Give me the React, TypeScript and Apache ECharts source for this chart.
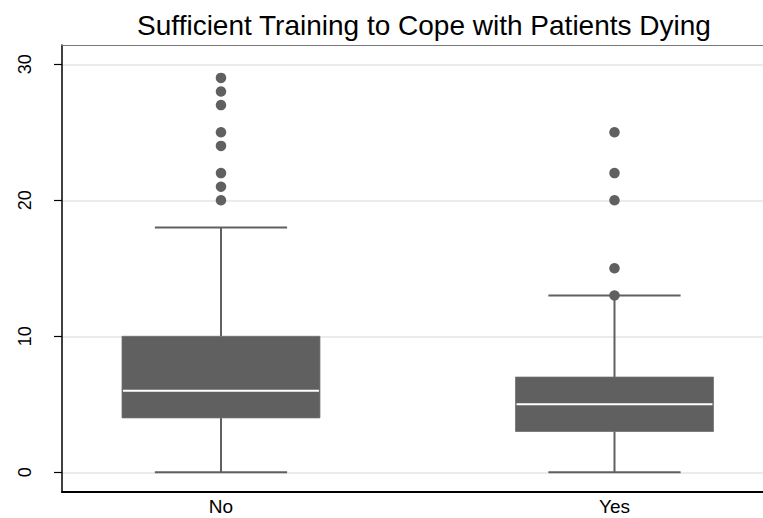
import React, { useEffect, useRef } from "react";
import * as echarts from "echarts";

const titleText = "Sufficient Training to Cope with Patients Dying";
const categories = ["No", "Yes"];
const categoryPositions = [1, 2];
const lowerWhisker = [0, 0];
const q1 = [4, 3];
const median = [6, 5];
const q3 = [10, 7];
const upperWhisker = [18, 13];
const outliersNo = [20, 21, 22, 24, 25, 27, 28, 29];
const outliersYes = [13, 15, 20, 22, 25];
const yTicks = [0, 10, 20, 30];

const BOX_COLOR = "#606060";

export default function App() {
  const ref = useRef<HTMLDivElement>(null);

  useEffect(() => {
    if (!ref.current) return;
    const chart = echarts.init(ref.current, null, { renderer: "svg" });

    const boxData = categoryPositions.map((x, i) => [
      x,
      lowerWhisker[i],
      q1[i],
      median[i],
      q3[i],
      upperWhisker[i],
    ]);
    const outlierData: number[][] = [];
    outliersNo.forEach((v) => outlierData.push([categoryPositions[0], v]));
    outliersYes.forEach((v) => outlierData.push([categoryPositions[1], v]));

    const boxWidth = 0.503;
    const capWidth = 0.336;

    chart.setOption({
      animation: false,
      backgroundColor: "#ffffff",
      title: {
        text: titleText,
        left: 419,
        textAlign: "center",
        top: 6,
        textStyle: {
          fontFamily: "Liberation Sans",
          fontSize: 28,
          fontWeight: "normal",
          color: "#000000",
        },
      },
      grid: { left: 62, right: 0, top: 45, bottom: 26, containLabel: false },
      xAxis: [
        {
          type: "value",
          min: 0.596,
          max: 2.3774,
          position: "bottom",
          axisLine: { show: true, onZero: false, lineStyle: { color: "#000000", width: 2 } },
          axisTick: { show: false },
          splitLine: { show: false },
          axisLabel: {
            customValues: categoryPositions,
            formatter: (v: number) => categories[categoryPositions.indexOf(v)] ?? "",
            fontFamily: "Liberation Sans",
            fontSize: 19,
            color: "#000000",
            margin: 5,
          },
        },
        {
          type: "value",
          min: 0.596,
          max: 2.3774,
          position: "top",
          axisLine: { show: true, onZero: false, lineStyle: { color: "#7a7a7a", width: 1 } },
          axisTick: { show: false },
          axisLabel: { show: false },
          splitLine: { show: false },
        },
      ],
      yAxis: {
        type: "value",
        min: -1.45,
        max: 31.42,
        axisLine: { show: true, onZero: false, lineStyle: { color: "#000000", width: 1.5 } },
        axisTick: {
          show: true,
          customValues: yTicks,
          length: 8,
          lineStyle: { color: "#000000", width: 1.2 },
        },
        axisLabel: {
          customValues: yTicks,
          rotate: 90,
          margin: 28,
          formatter: (v: number) => "{t|" + v + "}",
          rich: {
            t: {
              fontFamily: "Liberation Sans",
              fontSize: 18,
              color: "#000000",
            },
          },
          fontFamily: "Liberation Sans",
          fontSize: 18,
          color: "#000000",
        },
        splitLine: { show: true, lineStyle: { color: "#e4e4e4", width: 1.5 } },
      },
      series: [
        {
          type: "custom",
          xAxisIndex: 0,
          data: boxData,
          z: 3,
          renderItem: (params: any, api: any) => {
            const x = api.value(0);
            const pLow = api.coord([x, api.value(1)]);
            const pQ1 = api.coord([x, api.value(2)]);
            const pMed = api.coord([x, api.value(3)]);
            const pQ3 = api.coord([x, api.value(4)]);
            const pHigh = api.coord([x, api.value(5)]);
            const bw = api.size([boxWidth, 0])[0];
            const cw = api.size([capWidth, 0])[0];
            const cx = pLow[0];
            const lineStyle = { stroke: BOX_COLOR, lineWidth: 2 };
            return {
              type: "group",
              children: [
                { type: "line", shape: { x1: cx, y1: pLow[1], x2: cx, y2: pQ1[1] }, style: lineStyle },
                { type: "line", shape: { x1: cx, y1: pQ3[1], x2: cx, y2: pHigh[1] }, style: lineStyle },
                { type: "line", shape: { x1: cx - cw / 2, y1: pLow[1], x2: cx + cw / 2, y2: pLow[1] }, style: lineStyle },
                { type: "line", shape: { x1: cx - cw / 2, y1: pHigh[1], x2: cx + cw / 2, y2: pHigh[1] }, style: lineStyle },
                {
                  type: "rect",
                  shape: { x: cx - bw / 2, y: pQ3[1], width: bw, height: pQ1[1] - pQ3[1] },
                  style: { fill: BOX_COLOR, stroke: "#6e6e6e", lineWidth: 0.8 },
                },
                {
                  type: "line",
                  shape: { x1: cx - bw / 2 + 1, y1: pMed[1], x2: cx + bw / 2 - 1, y2: pMed[1] },
                  style: { stroke: "#ffffff", lineWidth: 2 },
                },
              ],
            };
          },
        },
        {
          type: "scatter",
          xAxisIndex: 0,
          data: outlierData,
          symbol: "circle",
          symbolSize: 10.5,
          itemStyle: { color: BOX_COLOR, opacity: 1 },
          z: 4,
        },
      ],
    });

    return () => chart.dispose();
  }, []);

  return <div ref={ref} style={{ width: 763, height: 518, position: "absolute", left: 0, top: 0 }} />;
}
